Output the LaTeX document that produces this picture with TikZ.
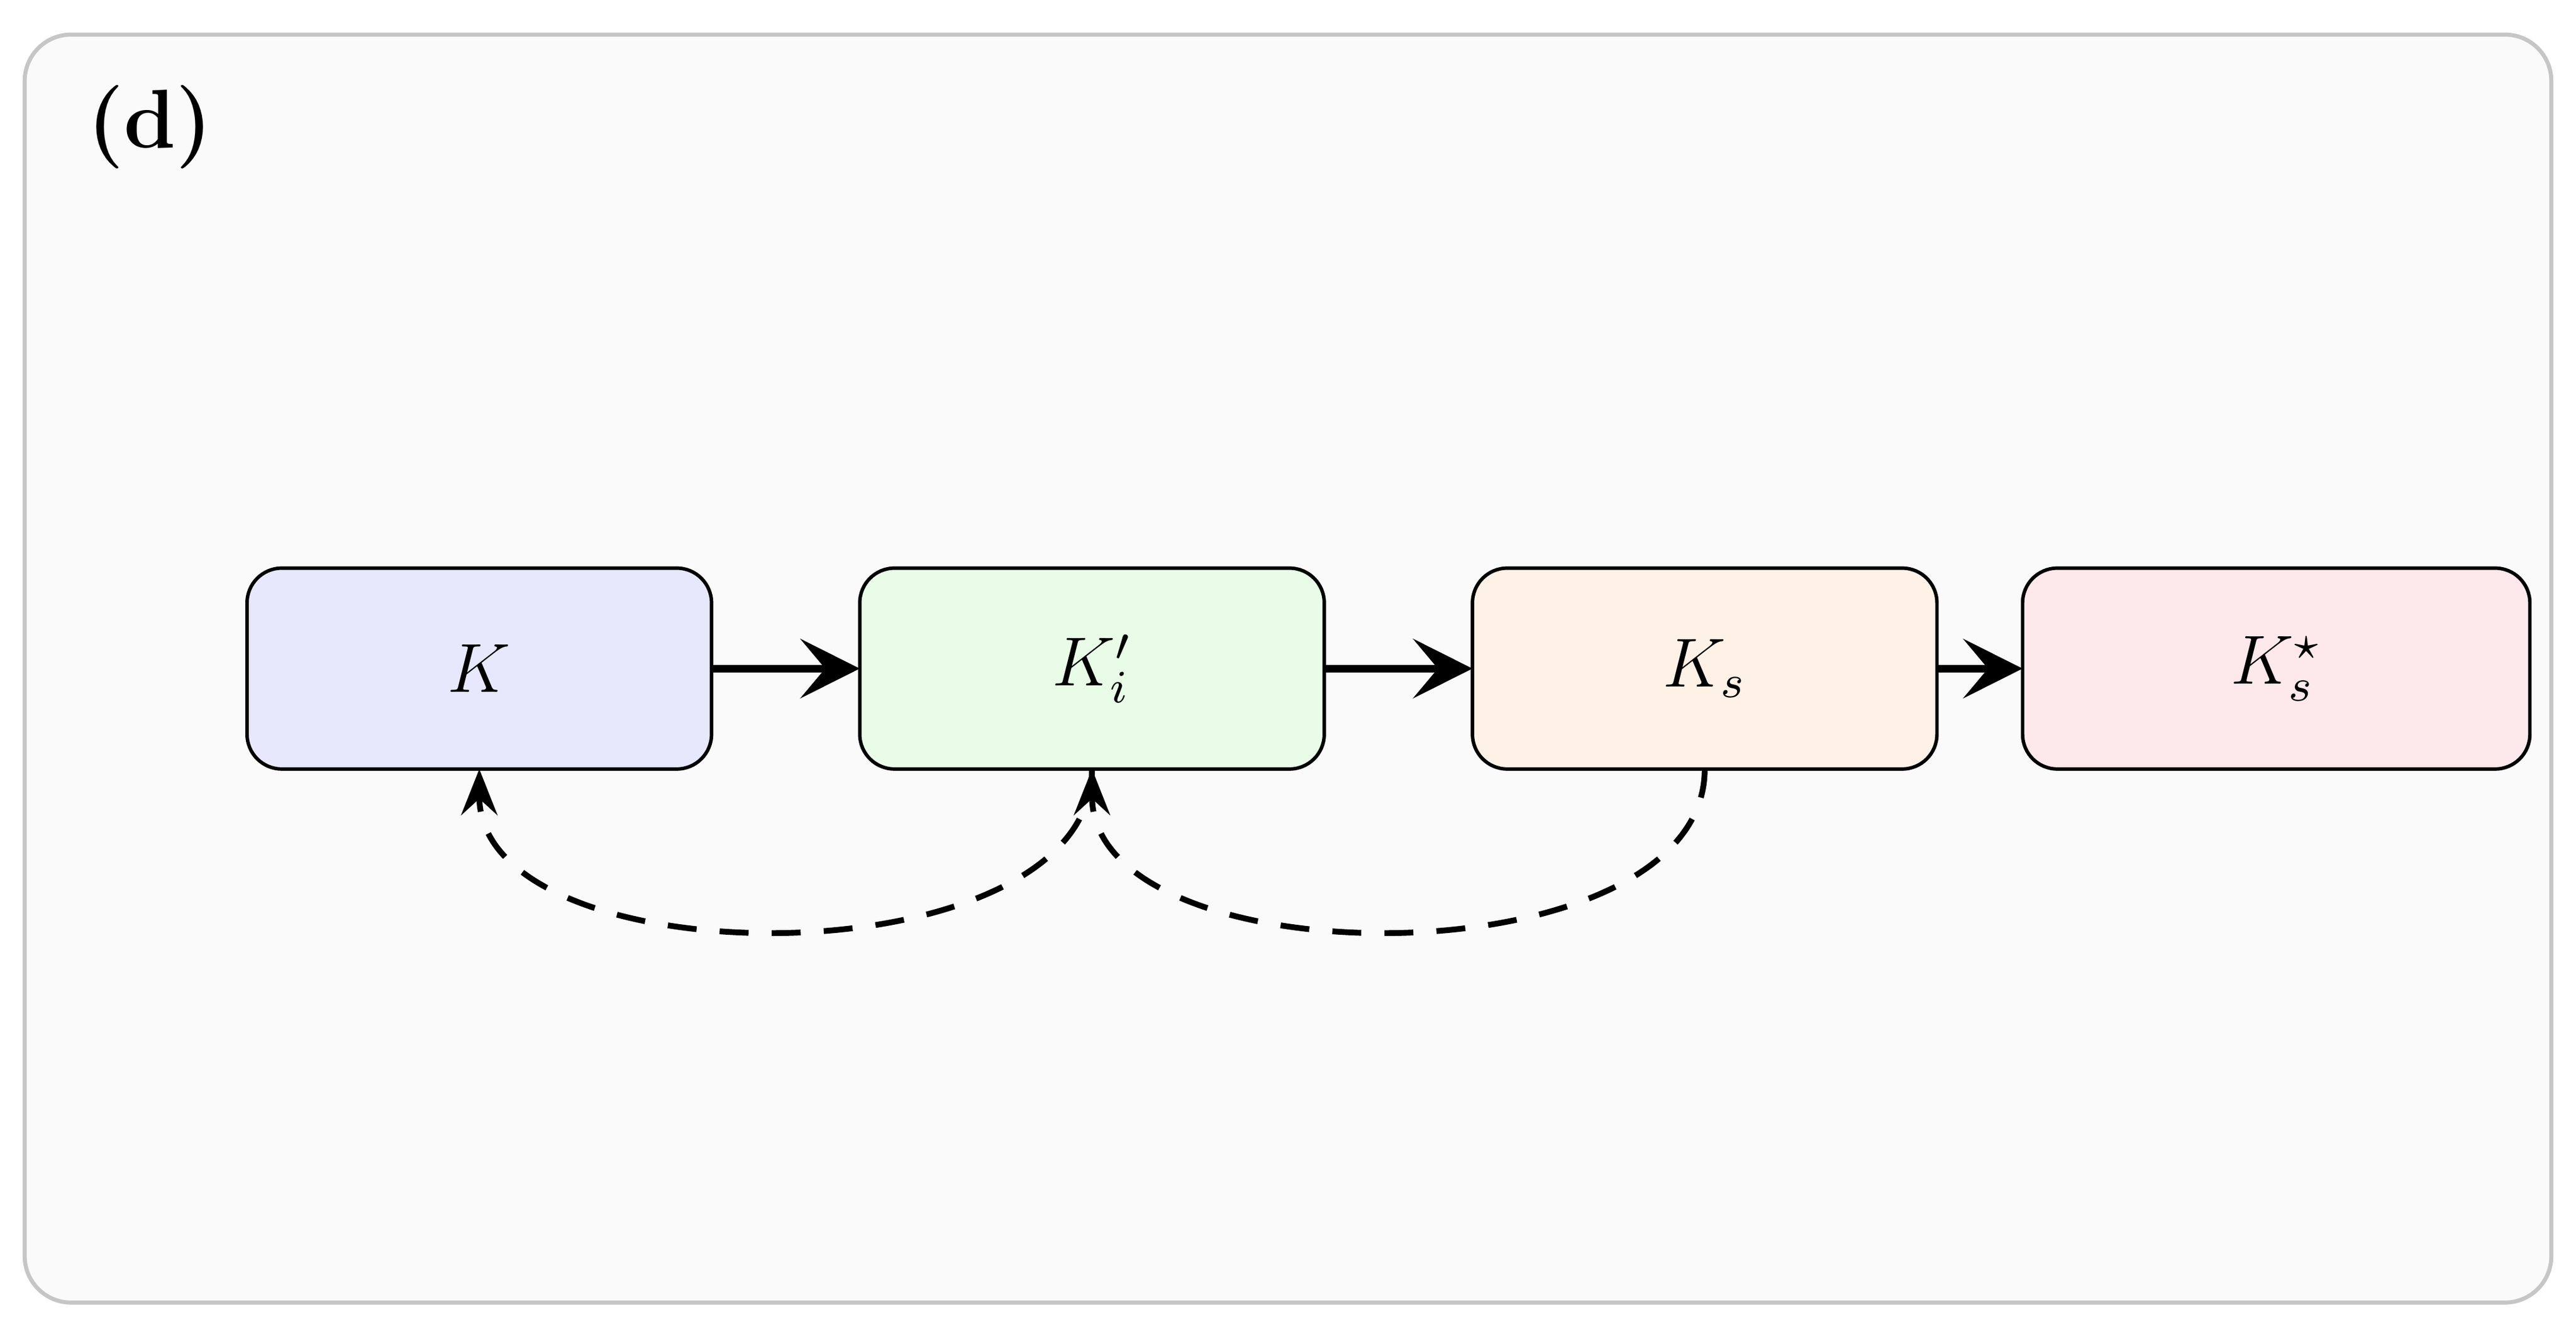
\documentclass[tikz,border=0pt]{standalone}
\usetikzlibrary{arrows.meta,positioning}
\definecolor{bgc}{HTML}{FAFAFA}
\definecolor{cblue}{HTML}{E8E8FC}
\definecolor{cgreen}{HTML}{E8FCE8}
\definecolor{corange}{HTML}{FEF2E6}
\definecolor{cred}{HTML}{FDE8EC}
\tikzset{
  box/.style={draw,rounded corners=6pt,minimum width=2.82cm,minimum height=1.22cm,font=\large,line width=0.6pt,outer sep=0pt},
  flow/.style={line width=1.3pt,-{Stealth[length=3.6mm,width=3.6mm,inset=1.5mm]}},
  back/.style={line width=1pt,dash pattern=on 5pt off 4pt,-{Stealth[length=2.8mm,width=2.2mm,inset=1mm]}}
}
\begin{document}
\begin{tikzpicture}
\useasboundingbox (0,0) rectangle (15.64,8.04);
\draw[gray!45,fill=bgc,rounded corners=8pt,line width=0.7pt] (0.15,0.13) rectangle (15.49,7.83);
\node[font=\Large\bfseries] (lab) at (0.91,7.27) {(d)};
% cajas
\node[box,fill=cblue] (k) at (2.91,3.98) {$K$};
\node[box,fill=cgreen] (kp) at (6.63,3.98) {$K'_i$};
\node[box,fill=corange] (ks) at (10.35,3.98) {$K_s$};
\node[box,fill=cred,minimum width=3.08cm] (kstar) at (13.82,3.98) {$K_s^\star$};
\draw[flow] (k) -- (kp);
\draw[flow] (kp) -- (ks);
\draw[flow] (ks) -- (kstar);
% retorno
\draw[back] (kp.south) .. controls +(0,-1.3) and +(0,-1.3) .. (k.south);
\draw[back] (ks.south) .. controls +(0,-1.3) and +(0,-1.3) .. (kp.south);
\end{tikzpicture}
\end{document}
